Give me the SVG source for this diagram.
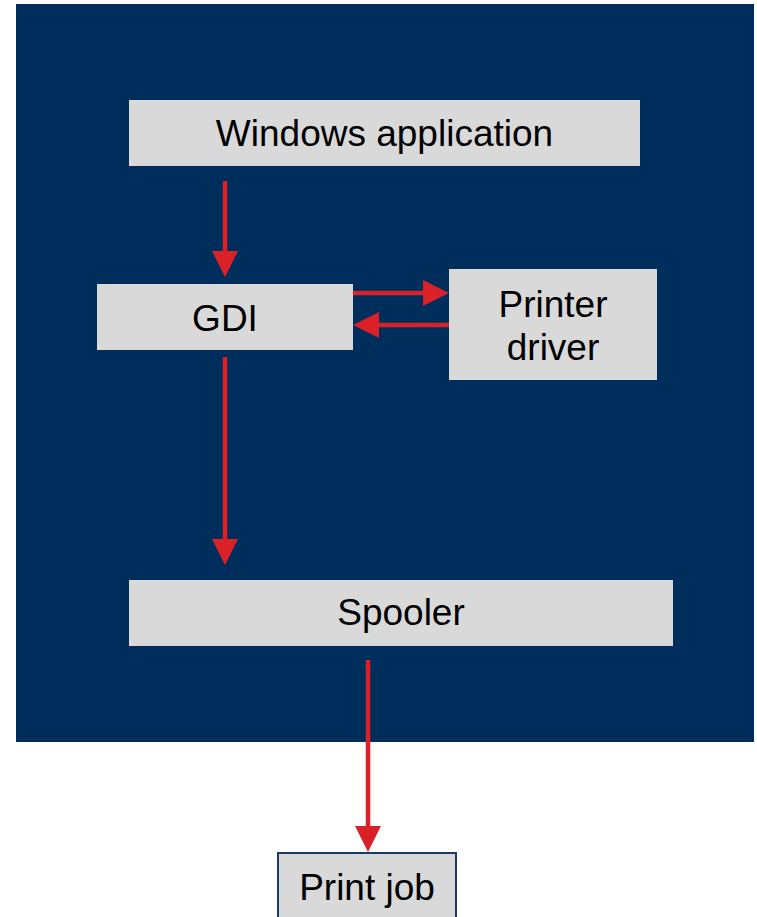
<svg xmlns="http://www.w3.org/2000/svg" width="757" height="917" viewBox="0 0 757 917">
<style>
.box{fill:#d9d9d9}
.lbl{font-family:"Liberation Sans",Arial,sans-serif;font-size:37px;fill:#000;text-anchor:middle}
.conn{stroke:#da2128;stroke-width:4.5;fill:none}
</style>
<defs>
<marker id="ah" markerUnits="userSpaceOnUse" markerWidth="26" markerHeight="26" refX="0" refY="13" orient="auto">
<path d="M0,0 L26,13 L0,26 z" fill="#da2128"/>
</marker>
</defs>
<rect x="16" y="4" width="738" height="738" fill="#002e5c"/>
<g id="node-windows-application">
<rect class="box" x="129" y="100" width="511" height="66"/>
<text class="lbl" x="384.5" y="146">Windows application</text>
</g>
<g id="node-gdi">
<rect class="box" x="97" y="284" width="256" height="66"/>
<text class="lbl" x="225" y="331">GDI</text>
</g>
<g id="node-printer-driver">
<rect class="box" x="449" y="269" width="208" height="111"/>
<text class="lbl" x="553" y="317">Printer</text>
<text class="lbl" x="553" y="360">driver</text>
</g>
<g id="node-spooler">
<rect class="box" x="129" y="580" width="544" height="66"/>
<text class="lbl" x="401" y="625">Spooler</text>
</g>
<g id="node-print-job">
<rect class="box" x="278" y="853" width="178" height="80" stroke="#1c3a66" stroke-width="2"/>
<text class="lbl" x="367" y="900">Print job</text>
</g>
<g id="connectors">
<line class="conn" x1="225" y1="181" x2="225" y2="251" marker-end="url(#ah)"/>
<line class="conn" x1="353" y1="293" x2="423" y2="293" marker-end="url(#ah)"/>
<line class="conn" x1="449" y1="325" x2="379" y2="325" marker-end="url(#ah)"/>
<line class="conn" x1="225" y1="357" x2="225" y2="539" marker-end="url(#ah)"/>
<line class="conn" x1="368" y1="660" x2="368" y2="826" marker-end="url(#ah)"/>
</g>
</svg>
